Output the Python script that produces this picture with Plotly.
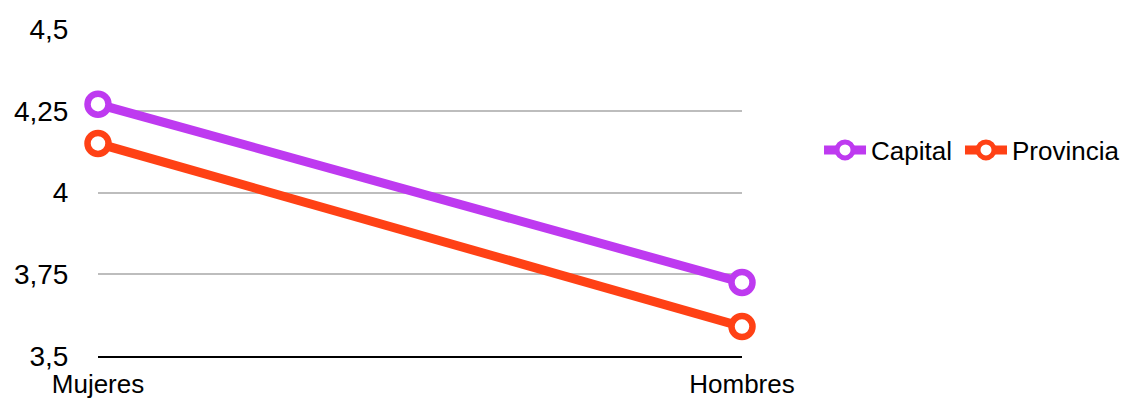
import plotly.graph_objects as go

categories = ["Mujeres", "Hombres"]
capital = [4.27, 3.725]
provincia = [4.15, 3.59]
y_ticks = [3.5, 3.75, 4, 4.25, 4.5]
y_tick_labels = ["3,5", "3,75", "4", "4,25", "4,5"]

series = [
    ("Capital", capital, "#BE3AF0", "legend"),
    ("Provincia", provincia, "#FF4115", "legend2"),
]

fig = go.Figure()
for name, values, color, legend_id in series:
    fig.add_trace(go.Scatter(
        x=categories, y=values, name=name, mode="lines+markers",
        line=dict(color=color, width=9),
        marker=dict(symbol="circle", size=21, color="white",
                    line=dict(color=color, width=6.5)),
        cliponaxis=False,
        legend=legend_id,
    ))

legend_style = dict(orientation="h", y=0.63, xanchor="left", yanchor="middle",
                    font=dict(size=26), itemwidth=42, bgcolor="rgba(0,0,0,0)")

fig.update_layout(
    width=1126, height=399,
    margin=dict(l=98, r=384, t=29, b=43, autoexpand=False),
    paper_bgcolor="white", plot_bgcolor="white",
    font=dict(family="Liberation Sans, Arial, sans-serif", size=27, color="black"),
    showlegend=True,
    legend=dict(x=1.1196, **legend_style),
    legend2=dict(x=1.3385, **legend_style),
    xaxis=dict(type="category", range=[0, 1], showgrid=False, zeroline=False,
               automargin=False, tickfont=dict(size=26),
               showline=True, linecolor="black", linewidth=2,
               ticks="outside", ticklen=4, tickcolor="rgba(0,0,0,0)"),
    yaxis=dict(range=[3.5, 4.5], tickvals=y_ticks, ticktext=y_tick_labels,
               automargin=False, tickfont=dict(size=28),
               showgrid=True, gridcolor="#BDBDBD", gridwidth=2, zeroline=False,
               showline=False, ticks="outside", ticklen=23, tickcolor="rgba(0,0,0,0)"),
)

fig.write_html("out.html")
